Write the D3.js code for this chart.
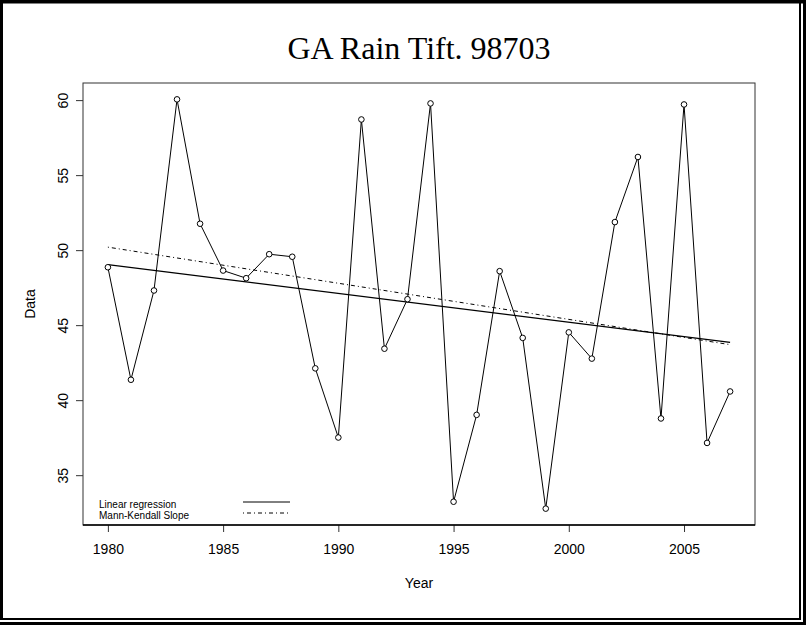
<!DOCTYPE html>
<html>
<head>
<meta charset="utf-8">
<script src="https://cdn.jsdelivr.net/npm/d3@7/dist/d3.min.js"></script>
<style>
  html, body { margin: 0; padding: 0; background: #fff; }
  svg { display: block; }
</style>
</head>
<body>
<div id="chart"></div>
<script>
// ---- Data ----
const years = [1980,1981,1982,1983,1984,1985,1986,1987,1988,1989,1990,1991,1992,1993,
               1994,1995,1996,1997,1998,1999,2000,2001,2002,2003,2004,2005,2006,2007];
const rain  = [48.86,41.36,47.31,60.05,51.76,48.64,48.13,49.73,49.56,42.12,37.51,58.71,43.43,46.73,
               59.78,33.23,39.02,48.60,44.15,32.77,44.52,42.77,51.87,56.21,38.78,59.71,37.15,40.58];
// trend line end points (year, value)
const linRegYears = [1980, 2007];
const linRegVals  = [49.04, 43.85];
const mkYears     = [1980, 2007];
const mkVals      = [50.20, 43.70];
const xTicks = [1980,1985,1990,1995,2000,2005];
const yTicks = [35,40,45,50,55,60];
const legendLabels = ["Linear regression", "Mann-Kendall Slope"];
const titleText = "GA Rain Tift. 98703";

// ---- Layout ----
const W = 806, H = 625;
const plot = {left: 83, right: 755, top: 83, bottom: 525};
const sans = "'Liberation Sans', Arial, sans-serif";
const serif = "'Liberation Serif', 'Times New Roman', serif";

const svg = d3.select("#chart").append("svg").attr("width", W).attr("height", H);

// frame
svg.append("rect").attr("x", 0).attr("y", 0).attr("width", W).attr("height", H).attr("fill", "#fff");
svg.append("rect").attr("x", 0).attr("y", 0).attr("width", 803).attr("height", 3.5).attr("fill", "#000");
svg.append("rect").attr("x", 0).attr("y", 0).attr("width", 3).attr("height", 620).attr("fill", "#000");
svg.append("rect").attr("x", 799).attr("y", 0).attr("width", 2).attr("height", 620).attr("fill", "#000");
svg.append("rect").attr("x", 0).attr("y", 618).attr("width", 801).attr("height", 2).attr("fill", "#000");
svg.append("rect").attr("x", 803).attr("y", 0).attr("width", 3).attr("height", H).attr("fill", "#000");
svg.append("rect").attr("x", 0).attr("y", 622).attr("width", W).attr("height", 3).attr("fill", "#000");

// scales (R-style 4% padding)
function rExtent(arr) {
  const e = d3.extent(arr); const pad = (e[1] - e[0]) * 0.04; return [e[0] - pad, e[1] + pad];
}
const x = d3.scaleLinear().domain(rExtent(years)).range([plot.left, plot.right]);
const y = d3.scaleLinear().domain(rExtent(rain)).range([plot.bottom, plot.top]);

// box
svg.append("rect").attr("x", plot.left).attr("y", plot.top)
  .attr("width", plot.right - plot.left).attr("height", plot.bottom - plot.top)
  .attr("fill", "none").attr("stroke", "#333").attr("stroke-width", 1);

// axes
const xAxis = d3.axisBottom(x).tickValues(xTicks).tickFormat(d3.format("d")).tickSize(7).tickPadding(12);
const gx = svg.append("g").attr("transform", `translate(0,${plot.bottom})`).call(xAxis);
gx.select(".domain").remove();
gx.selectAll("line").attr("stroke", "#333");
gx.selectAll("text").attr("font-family", sans).attr("font-size", 14).attr("fill", "#000");

const yAxis = d3.axisLeft(y).tickValues(yTicks).tickSize(7).tickPadding(0);
const gy = svg.append("g").attr("transform", `translate(${plot.left},0)`).call(yAxis);
gy.select(".domain").remove();
gy.selectAll("line").attr("stroke", "#333");
gy.selectAll("text")
  .attr("font-family", sans).attr("font-size", 14).attr("fill", "#000")
  .attr("x", null).attr("dy", null)
  .attr("text-anchor", "middle")
  .attr("transform", `translate(-20,0) rotate(-90)`)
  .attr("dominant-baseline", "central");

// bottom axis darker line
svg.append("line").attr("x1", plot.left).attr("x2", plot.right)
  .attr("y1", plot.bottom).attr("y2", plot.bottom)
  .attr("stroke", "#000").attr("stroke-width", 1.5);

// title & labels
svg.append("text").attr("x", 419).attr("y", 59).attr("text-anchor", "middle")
  .attr("font-family", serif).attr("font-size", 32).text(titleText);
svg.append("text").attr("x", 419).attr("y", 588).attr("text-anchor", "middle")
  .attr("font-family", sans).attr("font-size", 14).text("Year");
svg.append("text").attr("transform", `translate(35,${(plot.top + plot.bottom) / 2}) rotate(-90)`)
  .attr("text-anchor", "middle").attr("font-family", sans).attr("font-size", 14).text("Data");

// trend lines
const lineGen = d3.line().x(d => x(d[0])).y(d => y(d[1]));
svg.append("path").datum(d3.zip(linRegYears, linRegVals)).attr("d", lineGen)
  .attr("fill", "none").attr("stroke", "#000").attr("stroke-width", 1.2);
svg.append("path").datum(d3.zip(mkYears, mkVals)).attr("d", lineGen)
  .attr("fill", "none").attr("stroke", "#000").attr("stroke-width", 1).attr("stroke-dasharray", "1,3,4,3");

// data line & points
svg.append("path").datum(d3.zip(years, rain)).attr("d", lineGen)
  .attr("fill", "none").attr("stroke", "#000").attr("stroke-width", 1);
svg.append("g").selectAll("circle").data(d3.zip(years, rain)).join("circle")
  .attr("cx", d => x(d[0])).attr("cy", d => y(d[1])).attr("r", 2.8)
  .attr("fill", "#fff").attr("stroke", "#000").attr("stroke-width", 1);

// legend
const lg = svg.append("g");
legendLabels.forEach((lab, i) => {
  const yy = 504 + i * 11;
  lg.append("text").attr("x", 99).attr("y", yy).attr("dominant-baseline", "central")
    .attr("font-family", sans).attr("font-size", 10).text(lab);
  lg.append("line").attr("x1", 243).attr("x2", 290).attr("y1", yy - 2).attr("y2", yy - 2)
    .attr("stroke", "#000").attr("stroke-width", 1)
    .attr("stroke-dasharray", i === 1 ? "1,3,4,3" : null);
});
</script>
</body>
</html>
